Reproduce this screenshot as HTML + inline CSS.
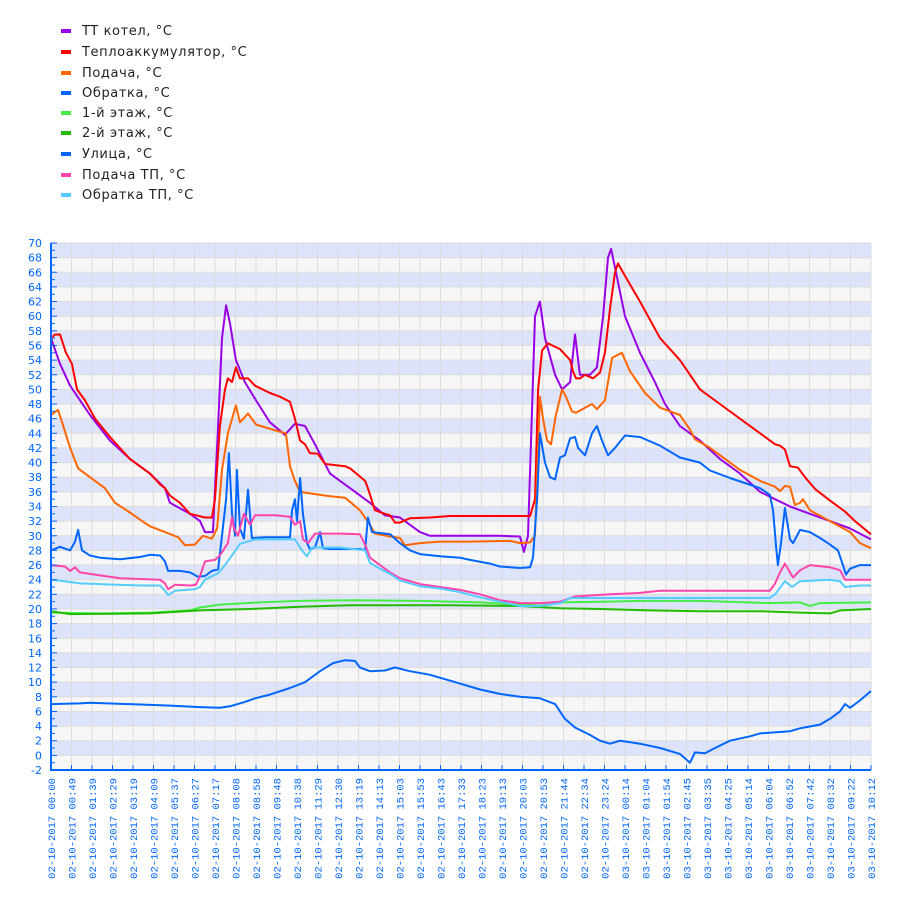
<!DOCTYPE html>
<html><head><meta charset="utf-8"><style>
body{margin:0;background:#fff;width:900px;height:900px;overflow:hidden;font-family:"DejaVu Sans","Liberation Sans",sans-serif}
.leg{position:absolute;left:61px;font-size:13px;color:#222;letter-spacing:0.6px;white-space:nowrap}
.leg i{display:inline-block;width:10px;height:4px;vertical-align:middle;margin-right:11px;position:relative;top:-1px}
</style></head><body>
<div id="legend"></div>
<svg id="chart" width="900" height="900" style="position:absolute;left:0;top:0"></svg>
<script>
const seriesNames=["TT котел, °C","Теплоаккумулятор, °C","Подача, °C","Обратка, °C","1-й этаж, °C","2-й этаж, °C","Улица, °C","Подача ТП, °C","Обратка ТП, °C"];
const seriesColors=["#9900e6","#ff0000","#ff6600","#0066ff","#44ee44","#22bb00","#0066ff","#ff44aa","#55ccff"];
const xLabels=["02-10-2017 00:00","02-10-2017 00:49","02-10-2017 01:39","02-10-2017 02:29","02-10-2017 03:19","02-10-2017 04:09","02-10-2017 05:37","02-10-2017 06:27","02-10-2017 07:17","02-10-2017 08:08","02-10-2017 08:58","02-10-2017 09:48","02-10-2017 10:38","02-10-2017 11:29","02-10-2017 12:30","02-10-2017 13:19","02-10-2017 14:13","02-10-2017 15:03","02-10-2017 15:53","02-10-2017 16:43","02-10-2017 17:33","02-10-2017 18:23","02-10-2017 19:13","02-10-2017 20:03","02-10-2017 20:53","02-10-2017 21:44","02-10-2017 22:34","02-10-2017 23:24","03-10-2017 00:14","03-10-2017 01:04","03-10-2017 01:54","03-10-2017 02:45","03-10-2017 03:35","03-10-2017 04:25","03-10-2017 05:14","03-10-2017 06:04","03-10-2017 06:52","03-10-2017 07:42","03-10-2017 08:32","03-10-2017 09:22","03-10-2017 10:12"];
// [slot position, °C]
const ttKotel=[[0,57],[.44,53.5],[.93,50.5],[1.9,46.5],[2.88,43],[3.85,40.5],[4.83,38.5],[5.56,36.5],[5.8,34.5],[6.78,33],[7.27,32],[7.51,30.5],[7.9,30.5],[8.15,45],[8.34,57],[8.54,61.5],[8.73,59],[9.02,54],[9.46,51],[10,48.5],[10.68,45.5],[11.41,43.8],[11.9,45.3],[12.39,45],[12.88,42.5],[13.61,38.5],[14.59,36.5],[15.56,34.5],[16.29,32.8],[17.02,32.5],[18,30.5],[18.49,30],[20.44,30],[21.9,30],[22.88,29.9],[23.07,27.8],[23.27,30],[23.61,60],[23.85,62],[24.1,57],[24.59,52],[24.93,50],[25.32,51],[25.56,57.5],[25.8,52],[26.29,52],[26.63,53],[26.93,60],[27.17,68],[27.32,69.2],[27.56,66],[28,60],[28.73,55],[29.46,51],[29.95,48],[30.68,45],[31.66,43],[32.63,40.5],[33.61,38.5],[34.59,36],[35.32,35],[36.05,34],[37.02,33],[38,32],[38.98,31],[40,29.5]];
const akkum=[[0,57],[.2,57.5],[.44,57.5],[.73,55],[1.02,53.5],[1.27,50],[1.66,48.5],[2.15,46],[2.88,43.5],[3.85,40.5],[4.83,38.5],[5.32,37],[5.56,36.5],[5.8,35.5],[6.29,34.5],[6.78,33],[7.51,32.5],[7.85,32.5],[8,35],[8.24,45],[8.49,50],[8.63,51.5],[8.83,51],[9.02,53],[9.22,51.5],[9.61,51.5],[9.95,50.5],[10.68,49.5],[11.17,49],[11.66,48.3],[11.9,46],[12.15,43],[12.39,42.5],[12.63,41.3],[13.02,41.2],[13.37,39.8],[14.34,39.5],[14.59,39.2],[15.32,37.5],[15.46,36.5],[15.8,33.5],[16.29,33],[16.54,32.8],[16.78,31.8],[17.02,31.8],[17.51,32.4],[18.49,32.5],[19.46,32.7],[21.9,32.7],[23.37,32.7],[23.61,35],[23.76,50],[23.95,55.3],[24.24,56.3],[24.83,55.5],[25.32,54],[25.46,52.5],[25.61,51.5],[25.8,51.5],[26.05,52],[26.44,51.5],[26.78,52.3],[27.02,55],[27.27,61],[27.51,66],[27.66,67.2],[28,65.5],[28.73,62],[29.71,57],[30.68,54],[31.17,52],[31.66,50],[32.63,48],[33.61,46],[34.59,44],[35.32,42.5],[35.56,42.3],[35.8,41.8],[36.05,39.5],[36.44,39.3],[36.78,38],[37.27,36.4],[38,34.8],[38.73,33.3],[39.22,32],[40,30.2]];
const podacha=[[0,46.5],[.34,47.2],[.54,45.5],[.93,42],[1.32,39.2],[1.9,38],[2.63,36.5],[3.12,34.5],[3.85,33.2],[4.34,32.2],[4.83,31.3],[5.56,30.5],[6.2,29.8],[6.54,28.7],[7.02,28.8],[7.41,30],[7.85,29.6],[8.1,31],[8.34,39],[8.63,44],[9.02,47.8],[9.22,45.5],[9.61,46.7],[10,45.2],[10.93,44.4],[11.46,44],[11.66,39.5],[11.9,37.5],[12.15,36],[12.88,35.7],[13.61,35.4],[14.34,35.2],[15.07,33.5],[15.56,31.5],[15.8,30.3],[16.54,29.9],[17.02,29.7],[17.27,28.7],[18,29],[18.98,29.2],[20.44,29.2],[22.39,29.3],[22.88,29],[23.37,29.1],[23.61,30],[23.85,49],[24,46],[24.2,43],[24.39,42.5],[24.63,46.5],[24.93,50],[25.12,49],[25.41,47],[25.61,46.8],[26.05,47.5],[26.39,48],[26.63,47.3],[27.02,48.5],[27.37,54.3],[27.85,55],[28.24,52.5],[28.98,49.5],[29.71,47.5],[30.68,46.5],[31.17,44.5],[31.41,43.2],[32.15,42],[33.61,39],[34.59,37.5],[35.32,36.7],[35.56,36.1],[35.8,36.8],[36.05,36.7],[36.29,34.2],[36.54,34.5],[36.68,35],[37.02,33.5],[38,32],[38.98,30.5],[39.46,29],[40,28.3]];
const obratka=[[0,28],[.44,28.5],[.93,28],[1.17,29.2],[1.32,30.8],[1.51,28],[1.9,27.3],[2.39,27],[3.37,26.8],[4.34,27.1],[4.83,27.4],[5.32,27.3],[5.56,26.5],[5.71,25.2],[6.29,25.2],[6.78,25],[7.17,24.4],[7.51,24.5],[7.85,25.2],[8.15,25.4],[8.34,30],[8.54,35],[8.68,41.3],[8.83,33],[8.98,30],[9.07,39],[9.22,31],[9.41,29.6],[9.61,36.3],[9.8,29.7],[10.44,29.8],[11.66,29.8],[11.76,33.5],[11.9,35],[12,32],[12.15,37.9],[12.29,33],[12.49,29],[12.63,28.2],[12.88,28.4],[13.12,30.5],[13.27,28.3],[13.61,28.2],[15.07,28.2],[15.32,28],[15.46,32.5],[15.66,30.5],[16.29,30.3],[16.54,30.2],[17.02,29],[17.51,28],[18,27.5],[18.98,27.2],[19.95,27],[20.44,26.7],[21.41,26.2],[21.9,25.8],[22.88,25.6],[23.37,25.7],[23.51,27],[23.71,35],[23.85,44],[24.1,40],[24.34,38],[24.59,37.7],[24.83,40.7],[25.07,41],[25.32,43.3],[25.56,43.5],[25.71,42],[26.05,41],[26.39,44],[26.63,45],[26.88,43],[27.17,41],[27.51,42],[28,43.7],[28.73,43.5],[29.71,42.3],[30.68,40.7],[31.66,40],[32.15,38.9],[33.12,37.9],[34.59,36.5],[35.07,35.6],[35.22,33.5],[35.37,28.5],[35.46,26],[35.61,29],[35.8,33.8],[36.05,29.5],[36.2,29],[36.54,30.8],[37.02,30.5],[37.51,29.7],[38,28.8],[38.39,28],[38.63,26],[38.78,24.7],[38.98,25.5],[39.46,26],[40,26]];
const floor1=[[0,19.5],[2.39,19.4],[4.83,19.5],[6.78,19.8],[7.27,20.2],[8.24,20.6],[10.2,20.9],[12.15,21.1],[14.59,21.2],[18,21.1],[20.93,20.9],[22.88,20.6],[24.83,20.9],[26.78,21],[28.73,21.1],[31.66,21.1],[35.07,20.8],[36.54,20.9],[37.02,20.4],[37.51,20.8],[40,20.9]];
const floor2=[[0,19.7],[.93,19.3],[4.83,19.4],[7.27,19.8],[9.71,20],[12.15,20.3],[14.59,20.5],[19.46,20.5],[22.88,20.4],[24.83,20.1],[26.78,20],[29.22,19.8],[31.66,19.7],[34.59,19.7],[36.54,19.5],[38,19.4],[38.49,19.8],[40,20]];
const ulica=[[0,7],[1.41,7.1],[1.9,7.2],[4.83,6.9],[5.8,6.8],[7.27,6.6],[8.24,6.5],[8.73,6.7],[9.46,7.3],[9.95,7.8],[10.68,8.3],[11.66,9.2],[12.39,10],[13.12,11.5],[13.76,12.6],[14.34,13],[14.83,12.9],[15.07,12],[15.56,11.5],[16.29,11.6],[16.78,12],[17.51,11.5],[18.49,11],[19.95,9.8],[20.93,9],[21.9,8.4],[22.88,8],[23.85,7.8],[24.59,7],[25.07,5],[25.56,3.8],[26.29,2.8],[26.78,2],[27.27,1.6],[27.76,2],[28.73,1.6],[29.71,1],[30.68,.2],[31.17,-1],[31.41,.4],[31.9,.3],[32.39,1],[33.12,2],[34.1,2.6],[34.59,3],[36.05,3.3],[36.54,3.7],[37.51,4.2],[38,5],[38.49,6],[38.73,7],[38.98,6.5],[39.46,7.5],[40,8.8]];
const podachaTP=[[0,26],[.68,25.8],[.93,25.2],[1.17,25.7],[1.41,25],[2.15,24.7],[3.37,24.2],[5.32,24],[5.56,23.5],[5.71,22.7],[6.05,23.3],[6.78,23.2],[7.07,23.3],[7.27,24.5],[7.51,26.5],[8,26.7],[8.24,27.3],[8.63,29],[8.83,32.5],[8.93,31],[9.12,30],[9.41,33],[9.71,31.5],[9.95,32.8],[10.93,32.8],[11.66,32.6],[11.9,31.5],[12.15,32],[12.29,29.5],[12.54,29],[12.88,30.3],[14.1,30.3],[15.07,30.2],[15.32,28.8],[15.56,27],[16.05,26],[16.54,25],[17.02,24.2],[18,23.4],[18.98,23],[19.95,22.6],[20.93,22],[21.9,21.2],[22.88,20.8],[23.85,20.8],[24.83,21],[25.56,21.7],[27.27,22],[28.73,22.2],[29.71,22.5],[31.66,22.5],[35.07,22.5],[35.32,23.5],[35.56,25],[35.8,26.2],[36.05,25],[36.2,24.3],[36.54,25.3],[37.02,26],[38,25.7],[38.49,25.3],[38.73,24],[39.46,24],[40,24]];
const obratkaTP=[[0,24],[.68,23.8],[1.41,23.5],[2.39,23.4],[4.34,23.2],[5.32,23.2],[5.56,22.5],[5.71,21.9],[6.05,22.5],[7.02,22.7],[7.27,23],[7.51,24],[8.15,24.9],[8.49,26],[8.98,27.9],[9.22,28.9],[9.95,29.5],[10.93,29.5],[11.9,29.5],[12.24,28],[12.49,27.2],[12.73,28.4],[14.1,28.4],[15.32,28],[15.56,26.3],[16.05,25.5],[16.54,24.8],[17.02,23.9],[18,23.1],[18.98,22.8],[19.95,22.3],[20.93,21.6],[21.9,21],[22.88,20.4],[23.85,20.4],[24.83,20.8],[25.32,21.5],[28.73,21.5],[31.66,21.5],[35.07,21.5],[35.32,22],[35.8,23.8],[36.15,23],[36.54,23.8],[38,24],[38.49,23.8],[38.73,23],[39.46,23.2],[40,23.2]];
const seriesData=[ttKotel,akkum,podacha,obratka,floor1,floor2,ulica,podachaTP,obratkaTP];
const yMin=-2,yMax=70;

const L=51,R=871,T=243,B=770,NS=40;
const xS=t=>L+t*(R-L)/NS;
const yS=v=>T+(yMax-v)*(B-T)/(yMax-yMin);
const NS_="http://www.w3.org/2000/svg";
const svg=document.getElementById('chart');
function mk(tag,at,parent){const e=document.createElementNS(NS_,tag);for(const k in at)e.setAttribute(k,at[k]);(parent||svg).appendChild(e);return e;}

// bands
for(let v=yMax;v>yMin;v-=2){
  const idx=(yMax-v)/2;
  const r=mk('rect',{x:L,y:yS(v),width:R-L,height:yS(v-2)-yS(v),fill:idx%2===0?'#dde3fb':'#f6f6f6'});
  
  
}
// grid
for(let v=yMax;v>=yMin;v-=2){const g=mk('line',{x1:L,x2:R,y1:yS(v),y2:yS(v),stroke:'#dcdcdc','stroke-width':1});}
for(let i=1;i<=NS;i++){const g=mk('line',{x1:xS(i),x2:xS(i),y1:T,y2:B,stroke:'#dcdcdc','stroke-width':1});}
// series
seriesData.forEach((d,i)=>{
  const p=mk('polyline',{points:d.map(q=>xS(q[0]).toFixed(1)+','+yS(q[1]).toFixed(1)).join(' '),fill:'none',stroke:seriesColors[i],'stroke-width':2,'stroke-linejoin':'round'});
  
  
});
// axes
const ax='#0066ff';
const ya=mk('line',{x1:L,x2:L,y1:T,y2:B+1,stroke:ax,'stroke-width':2});


const xa=mk('line',{x1:L-1,x2:R,y1:B,y2:B,stroke:ax,'stroke-width':2});


for(let v=yMax;v>=yMin;v-=1){
  mk('line',{x1:L,x2:L+(v%2===0?6:4),y1:yS(v),y2:yS(v),stroke:ax,'stroke-width':1});
  if(v%2===0){
    const t=mk('text',{x:L-9,y:yS(v)+4,'text-anchor':'end','font-size':11,fill:ax,'font-family':'DejaVu Sans, sans-serif'});
    t.textContent=String(v);
    
    
  }
}
xLabels.forEach((s,i)=>{
  const x=xS(i);
  mk('line',{x1:x,x2:x,y1:B,y2:B-5,stroke:ax,'stroke-width':1});
  const t=mk('text',{x:0,y:0,transform:`translate(${x+4},778) rotate(-90)`,'text-anchor':'end','font-size':10.5,fill:ax,'font-family':'Liberation Mono, monospace'});
  t.textContent=s;
  
  
});
// legend
const lg=document.getElementById('legend');
const legY=[33,54,75,95,115,135,156,177,197];
seriesNames.forEach((n,i)=>{
  const d=document.createElement('div');
  d.className='leg';
  d.style.top=(legY[i]-9)+'px';
  d.innerHTML='<i style="background:'+seriesColors[i]+'"></i>'+n;
  
  
  lg.appendChild(d);
});
</script>
</body></html>
